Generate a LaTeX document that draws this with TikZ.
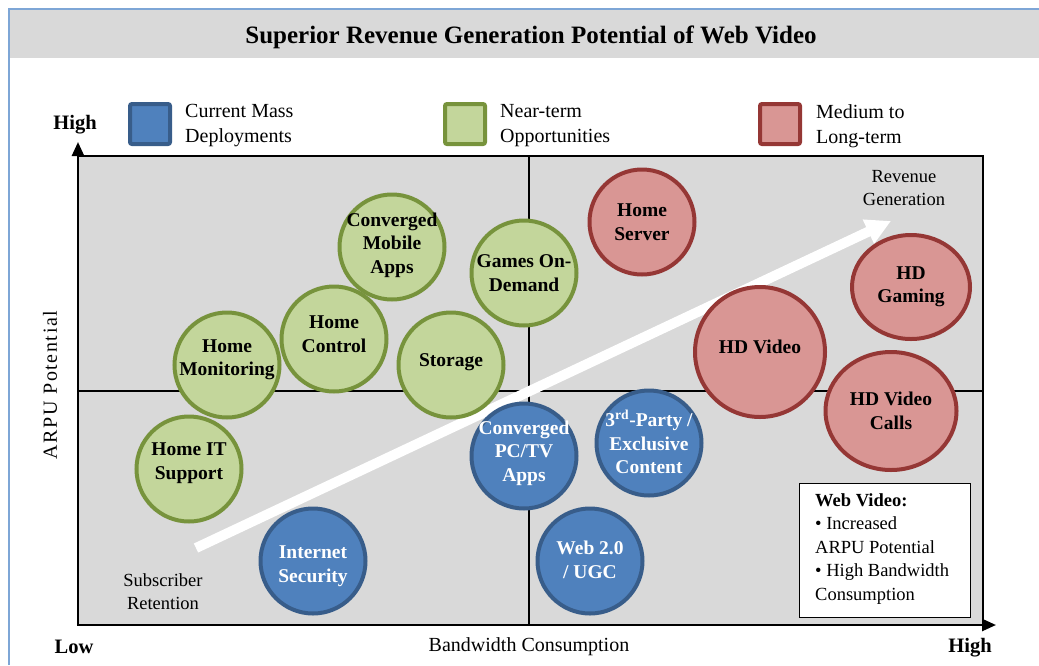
\documentclass[tikz,border=0pt]{standalone}
\usepackage{fontspec}
\setmainfont{Liberation Serif}
\usetikzlibrary{arrows.meta,shapes.geometric}
\definecolor{gfill}{HTML}{C3D69B}
\definecolor{gline}{HTML}{77933C}
\definecolor{bfill}{HTML}{4F81BD}
\definecolor{bline}{HTML}{385D8A}
\definecolor{rfill}{HTML}{D99694}
\definecolor{rline}{HTML}{953735}
\definecolor{panelgray}{HTML}{D9D9D9}
\definecolor{framblue}{HTML}{7EA6D6}
\begin{document}
\begin{tikzpicture}[x=1pt,y=-1pt,
  bubble/.style={circle, minimum size=105pt, inner sep=0pt, line width=4pt},
  btxt/.style={align=center, inner sep=0pt, font=\fontsize{19.5}{23.5}\selectfont\bfseries},
  gb/.style={bubble, fill=gfill, draw=gline},
  bb/.style={bubble, fill=bfill, draw=bline},
  rb/.style={bubble, fill=rfill, draw=rline},
  legsq/.style={rounded corners=2pt, line width=4pt, minimum size=40pt, inner sep=0pt},
  legtxt/.style={anchor=west, align=left, inner sep=0pt, font=\fontsize{20}{25}\selectfont},
  axlbl/.style={inner sep=0pt, font=\fontsize{20.5}{24}\selectfont\bfseries},
  note/.style={align=center, inner sep=0pt, font=\fontsize{18.5}{23}\selectfont},
  axis/.style={line width=2.5pt, -{Triangle[length=14pt,width=12pt]}},
  quad/.style={line width=1.5pt}
]
\useasboundingbox (0,0) rectangle (1039,665);
% frame and title band
\fill[panelgray] (10,10) rectangle (1039,58);
\draw[framblue, line width=1.8pt] (9,665) -- (9,9) -- (1039,9);
\node[inner sep=0pt, font=\fontsize{25}{30}\selectfont\bfseries] (title) at (531,37) {Superior Revenue Generation Potential of Web Video};
% legend
\node[legsq, fill=bfill, draw=bline] (lb) at (150,124) {};
\node[legtxt] (lbt) at (185,126) {Current Mass\\Deployments};
\node[legsq, fill=gfill, draw=gline] (lg) at (465,124) {};
\node[legtxt] (lgt) at (500,126) {Near-term\\Opportunities};
\node[legsq, fill=rfill, draw=rline] (lr) at (780,124) {};
\node[legtxt] (lrt) at (816,126) {Medium to\\Long-term};
% panel
\fill[panelgray] (78,156) rectangle (983,625);
\draw[line width=1.2pt] (78,156) -- (983,156) -- (983,625);
\coordinate (qt) at (529,156);
\coordinate (qb) at (529,625);
\coordinate (ql) at (78,391);
\coordinate (qr) at (983,391);
\draw[quad] (qt) -- (qb);
\draw[quad] (ql) -- (qr);
% white trend arrow
\coordinate (as) at (196,548);
\coordinate (ae) at (891,221);
\draw[white, line width=10pt, -{Triangle[length=25pt,width=25pt]}] (as) -- (ae);
\node[note] (rev) at (904,188) {Revenue\\Generation};
\node[note] (sub) at (163,592) {Subscriber\\Retention};
% green bubbles
\node[gb, label={[btxt,yshift=2pt]center:Converged\\Mobile\\Apps}] (cma) at (392,247) {};
\node[gb, label={[btxt]center:Games On-\\Demand}] (god) at (524,273) {};
\node[gb, label={[btxt,yshift=5pt]center:Home\\Control}] (hc) at (334,339) {};
\node[gb, label={[btxt,yshift=5pt]center:Home\\Monitoring}] (hm) at (227,365) {};
\node[gb, label={[btxt,yshift=3pt]center:Storage}] (st) at (451,365) {};
\node[gb, label={[btxt,yshift=6pt]center:Home IT\\Support}] (hit) at (189,469) {};
% red bubbles
\node[rb, label={[btxt]center:Home\\Server}] (hs) at (642,222) {};
\node[rb, ellipse, minimum width=118pt, minimum height=104pt, label={[btxt]center:HD\\Gaming}] (hdg) at (911,287) {};
\node[rb, minimum size=130pt, label={[btxt,yshift=5pt]center:HD Video}] (hdv) at (760,352) {};
\node[rb, ellipse, minimum width=131pt, minimum height=118pt, label={[btxt]center:HD Video\\Calls}] (hdc) at (891,411) {};
% blue bubbles
\node[bb, label={[btxt,text=white,yshift=3pt]center:Converged\\PC/TV\\Apps}] (cpc) at (524,456) {};
\node[bb, label={[btxt,text=white,yshift=1pt]center:3\textsuperscript{rd}-Party /\\Exclusive\\Content}] (tp) at (649,443) {};
\node[bb, label={[btxt,text=white,yshift=1pt]center:Web 2.0\\/ UGC}] (web) at (590,561) {};
\node[bb, label={[btxt,text=white,yshift=-5pt]center:Internet\\Security}] (is) at (313,561) {};
% web video box
\node[draw, fill=white, line width=1.2pt, minimum width=171pt, minimum height=134pt, inner sep=0pt, anchor=north west] (wv) at (799,483) {};
\node[anchor=north west, align=left, inner sep=0pt, font=\fontsize{18.5}{23.6}\selectfont] (wvt) at (815,493) {\textbf{Web Video:}\\• Increased\\ARPU Potential\\• High Bandwidth\\Consumption};
% axes
\coordinate (o) at (78,625);
\coordinate (ytop) at (78,142);
\coordinate (xend) at (996,625);
\draw[axis] (o) -- (ytop);
\draw[axis] ([xshift=-1.25pt]o) -- (xend);
\node[axlbl] (yhigh) at (75,125) {High};
\node[axlbl] (xlow) at (74,647) {Low};
\node[axlbl] (xhigh) at (970,648) {High};
\node[inner sep=0pt, font=\fontsize{20}{24}\selectfont] (xlab) at (529,647) {Bandwidth Consumption};
\node[inner sep=0pt, rotate=90, font=\fontsize{20}{24}\selectfont\addfontfeature{LetterSpace=8}] (ylab) at (50,385) {ARPU Potential};
\end{tikzpicture}
\end{document}
